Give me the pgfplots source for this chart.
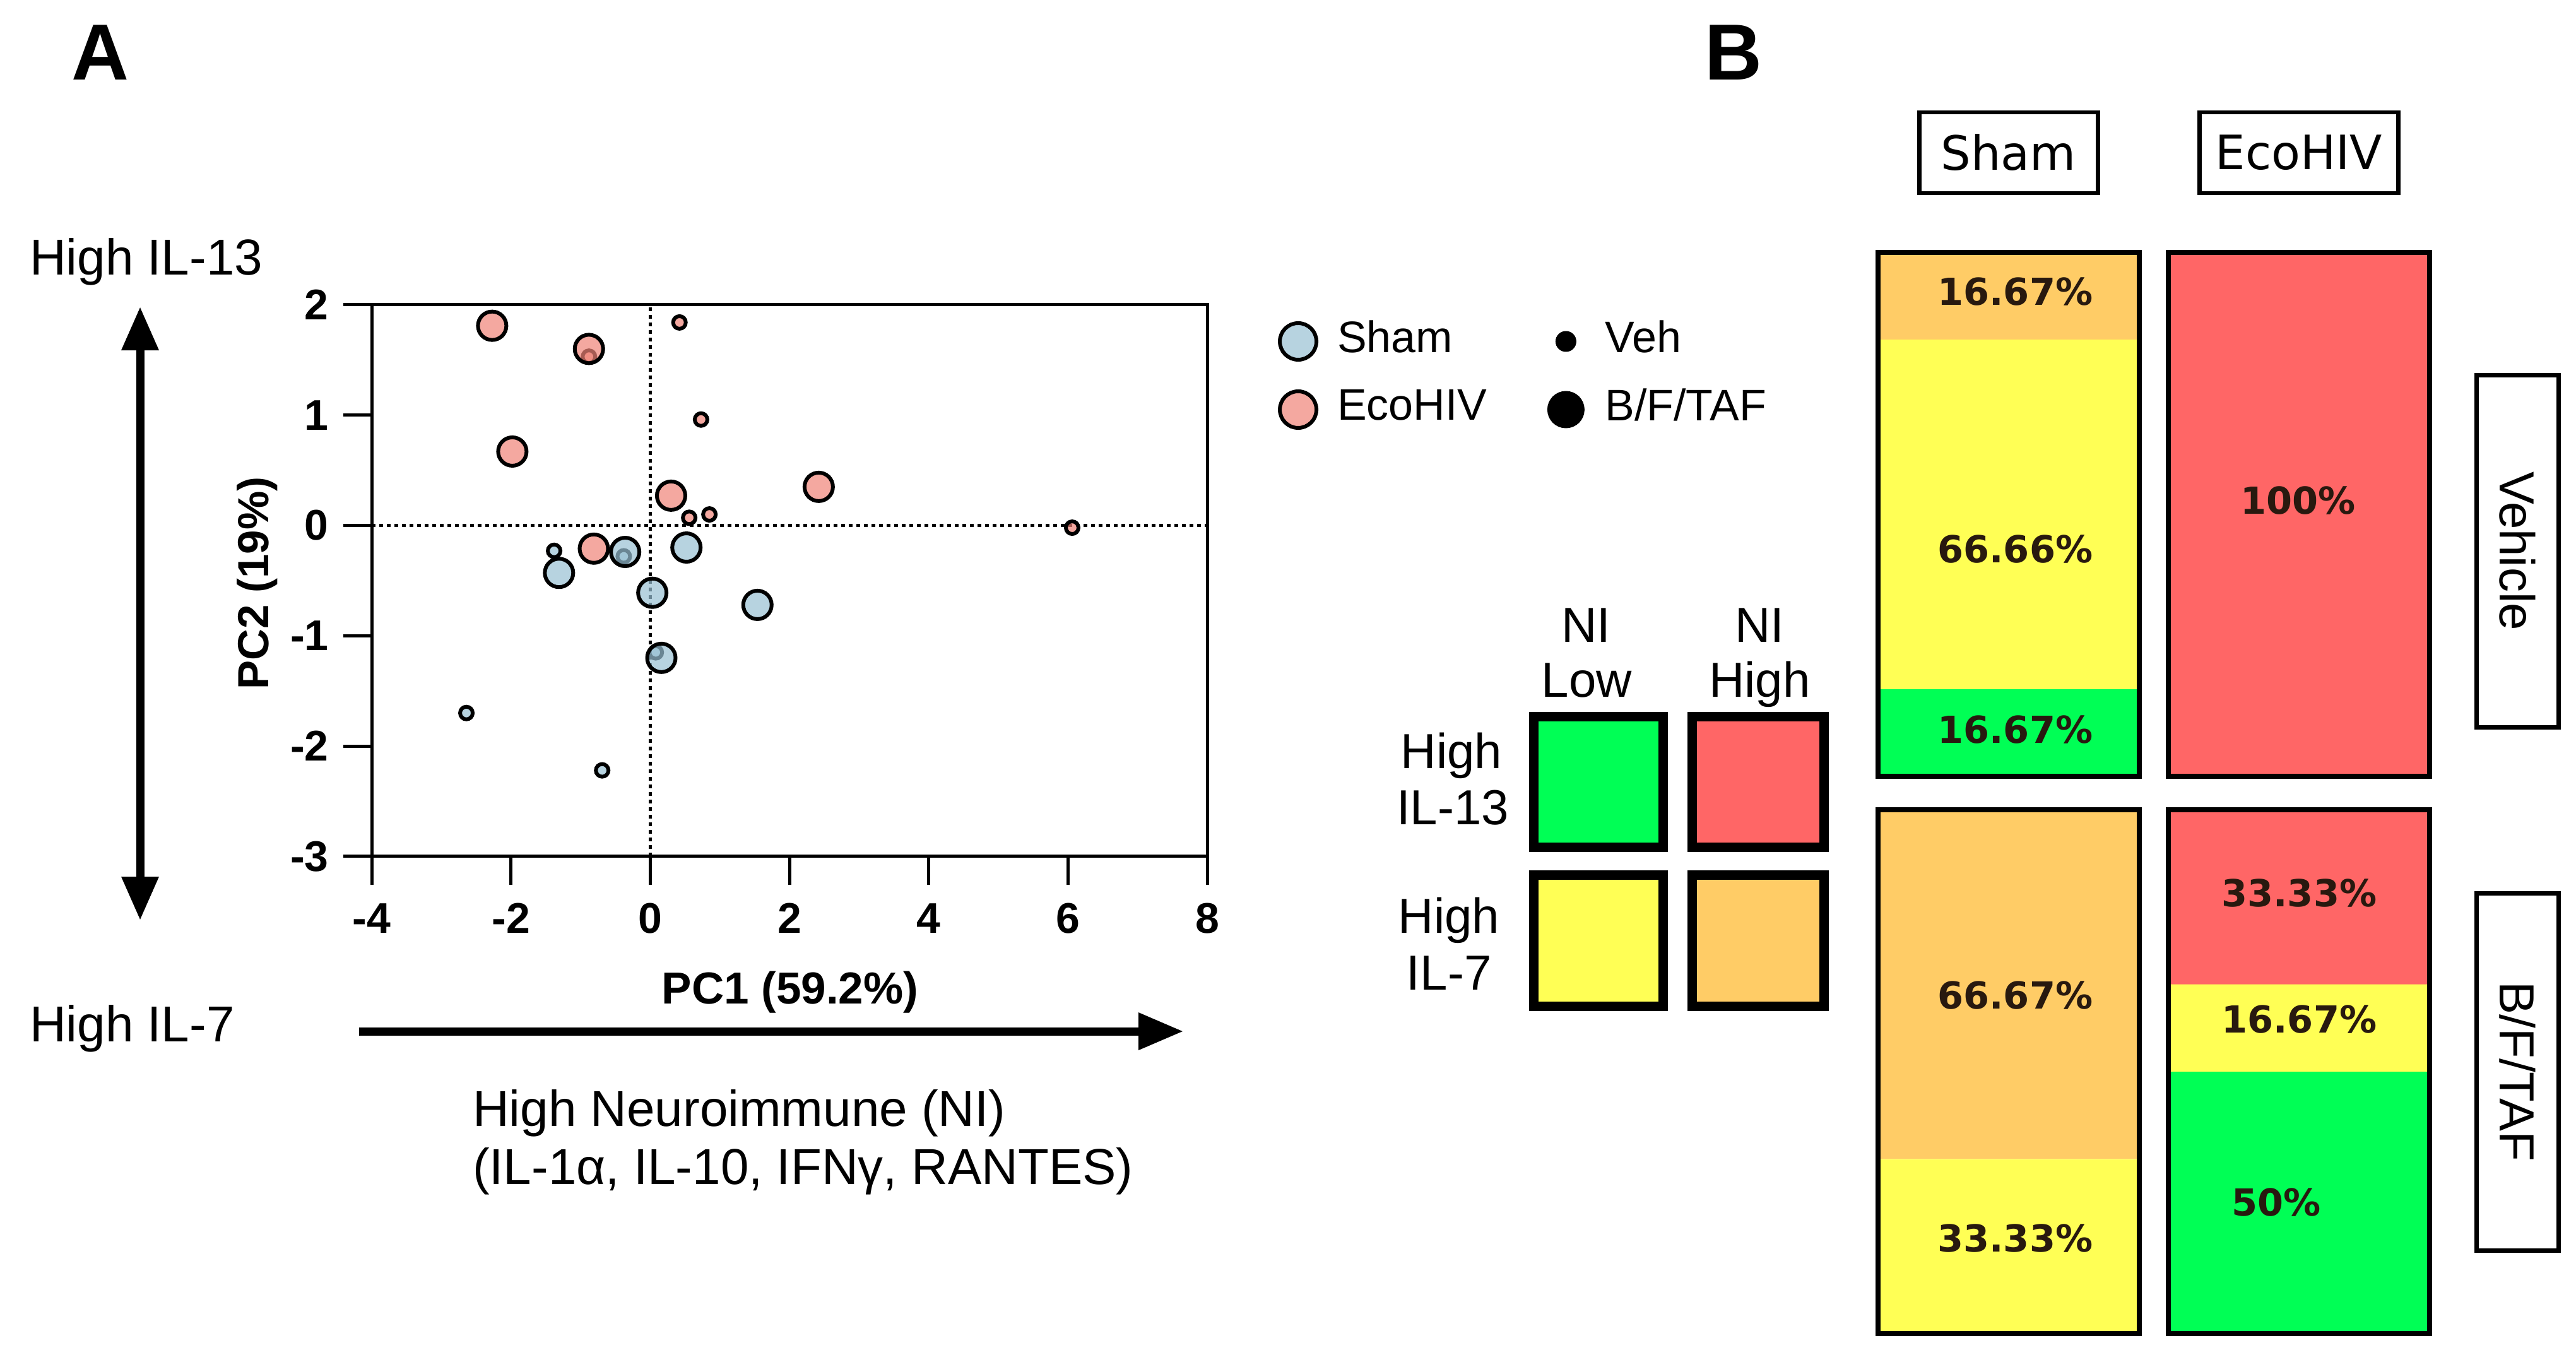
\documentclass[border=0pt]{standalone}
\usepackage{fontspec}
\setmainfont{Liberation Sans}
\newfontfamily\dejavu{DejaVu Sans}
\usepackage{pgfplots}
\pgfplotsset{compat=1.18}
\usetikzlibrary{arrows.meta}
\definecolor{shamblue}{RGB}{152,192,211}
\definecolor{ecopink}{RGB}{239,131,119}
\definecolor{cgreen}{RGB}{0,255,85}
\definecolor{cred}{RGB}{255,102,102}
\definecolor{cyellow}{RGB}{255,255,85}
\definecolor{corange}{RGB}{255,204,102}
\definecolor{lblc}{RGB}{40,25,15}
\pgfplotsset{
  barax/.style={scale only axis, width=92pt, height=83pt, xmin=-0.5, xmax=1.5,
    ymin=0, ymax=100, hide axis, clip=false, anchor=south west},
}
\tikzset{pct/.style={font=\dejavu\fontsize{5.9}{7}\selectfont\bfseries, text=lblc, inner sep=0pt}}
\begin{document}
\begin{tikzpicture}
\path[use as bounding box] (0,0) rectangle (408.2pt,213.8pt);

% ---------------- Panel A scatter ----------------
\begin{axis}[
  at={(58.9pt,78.1pt)}, anchor=south west, scale only axis,
  width=132.4pt, height=87.4pt,
  xmin=-4, xmax=8, ymin=-3, ymax=2,
  xtick={-4,-2,0,2,4,6,8}, ytick={-3,-2,-1,0,1,2},
  tick pos=left, tick align=outside, major tick length=4.5pt,
  axis line style={line width=0.5pt},
  every tick/.style={black, line width=0.5pt},
  ticklabel style={font=\fontsize{6.8}{8}\selectfont\bfseries},
  yticklabel style={xshift=1.2pt},
  xticklabel style={yshift=0.6pt},
  /pgf/number format/assume math mode=true,
  clip=false,
  legend columns=2, legend cell align=left,
  legend image code/.code={\path (-3pt,-3.2pt) (3pt,3.2pt); \draw[#1] plot coordinates {(0pt,0pt)};},
  legend style={draw=none, fill=none, at={(1.0846,0.9725)}, anchor=north west,
    inner sep=0pt, outer sep=0pt, row sep=4pt,
    font=\fontsize{7}{8.4}\selectfont, nodes={inner sep=0pt},
    /tikz/every odd column/.style={column sep=3pt},
    /tikz/every even column/.style={column sep=9.3pt}},
]
\addplot[forget plot, black, line width=0.55pt, dash pattern=on 0.6pt off 0.6pt] coordinates {(-4,0) (8,0)};
\addplot[forget plot, black, line width=0.55pt, dash pattern=on 0.6pt off 0.6pt] coordinates {(0,-3) (0,2)};
% Veh (small)
\addplot[forget plot, only marks, mark=*, mark size=1pt,
  mark options={draw=black, fill=shamblue, fill opacity=0.7, line width=0.6pt}]
  coordinates {(-0.38,-0.28) (-1.38,-0.23) (0.08,-1.15) (-2.64,-1.70) (-0.69,-2.22)};
\addplot[forget plot, only marks, mark=*, mark size=1pt,
  mark options={draw=black, fill=ecopink, fill opacity=0.7, line width=0.6pt}]
  coordinates {(-0.88,1.53) (0.42,1.84) (0.73,0.96) (0.56,0.07) (0.85,0.10) (6.06,-0.02)};
% B/F/TAF (big)
\addplot[forget plot, only marks, mark=*, mark size=2.25pt,
  mark options={draw=black, fill=ecopink, fill opacity=0.7, line width=0.6pt}]
  coordinates {(-2.27,1.81) (-0.88,1.60) (-1.98,0.67) (0.30,0.27) (2.42,0.35) (-0.81,-0.21)};
\addplot[forget plot, only marks, mark=*, mark size=2.25pt,
  mark options={draw=black, fill=shamblue, fill opacity=0.7, line width=0.6pt}]
  coordinates {(-0.36,-0.24) (-1.31,-0.43) (0.52,-0.20) (0.03,-0.61) (1.54,-0.72) (0.16,-1.20)};
% legend
\addlegendimage{only marks, mark=*, mark size=2.9pt, mark options={draw=black, fill=shamblue, fill opacity=0.7, line width=0.6pt}}
\addlegendentry{Sham}
\addlegendimage{only marks, mark=*, mark size=1.45pt, mark options={draw=black, fill=black}}
\addlegendentry{Veh}
\addlegendimage{only marks, mark=*, mark size=2.9pt, mark options={draw=black, fill=ecopink, fill opacity=0.7, line width=0.6pt}}
\addlegendentry{EcoHIV}
\addlegendimage{only marks, mark=*, mark size=2.75pt, mark options={draw=black, fill=black}}
\addlegendentry{B/F/TAF}
\end{axis}

% ---------------- Panel B key squares ----------------
\begin{axis}[at={(240pt,51.8pt)}, anchor=south west, scale only axis,
  width=52pt, height=52pt, xmin=2400, xmax=2920, ymin=1100, ymax=1620,
  y dir=reverse, hide axis, clip=false]
\addplot[fill=cgreen, draw=black, line width=1.5pt] coordinates {(2430,1136) (2635,1136) (2635,1343) (2430,1343)} -- cycle;
\addplot[fill=cred, draw=black, line width=1.5pt] coordinates {(2681,1136) (2890,1136) (2890,1343) (2681,1343)} -- cycle;
\addplot[fill=cyellow, draw=black, line width=1.5pt] coordinates {(2430,1387) (2635,1387) (2635,1594) (2430,1594)} -- cycle;
\addplot[fill=corange, draw=black, line width=1.5pt] coordinates {(2681,1387) (2890,1387) (2890,1594) (2681,1594)} -- cycle;
\end{axis}

% ---------------- Panel B stacked bars: Vehicle row ----------------
\begin{axis}[barax, at={(295.3pt,90.8pt)}, ybar stacked, bar width=0.9]
\addplot[fill=cgreen, draw=none] coordinates {(0,16.67) (1,0)};
\addplot[fill=cyellow, draw=none] coordinates {(0,66.66) (1,0)};
\addplot[fill=corange, draw=none] coordinates {(0,16.67) (1,0)};
\addplot[fill=cred, draw=none] coordinates {(0,0) (1,100)};
\end{axis}
\begin{axis}[barax, at={(295.3pt,90.8pt)}, ybar, bar width=0.9]
\addplot[fill=none, draw=black, line width=0.85pt] coordinates {(0,100) (1,100)};
\end{axis}

% ---------------- Panel B stacked bars: B/F/TAF row ----------------
\begin{axis}[barax, at={(295.3pt,2.5pt)}, ybar stacked, bar width=0.9]
\addplot[fill=cgreen, draw=none] coordinates {(0,0) (1,50)};
\addplot[fill=cyellow, draw=none] coordinates {(0,33.33) (1,16.67)};
\addplot[fill=corange, draw=none] coordinates {(0,66.67) (1,0)};
\addplot[fill=cred, draw=none] coordinates {(0,0) (1,33.33)};
\end{axis}
\begin{axis}[barax, at={(295.3pt,2.5pt)}, ybar, bar width=0.9]
\addplot[fill=none, draw=black, line width=0.85pt] coordinates {(0,100) (1,100)};
\end{axis}

% ---------------- Annotations ----------------
\begin{scope}[x=0.1pt,y=-0.1pt,shift={(0pt,213.8pt)}]
% percentage labels
\node[pct] at (3193,462) {16.67\%};
\node[pct] at (3193,870) {66.66\%};
\node[pct] at (3193,1156) {16.67\%};
\node[pct] at (3641,793) {100\%};
\node[pct] at (3193,1577) {66.67\%};
\node[pct] at (3193,1962) {33.33\%};
\node[pct] at (3643,1415) {33.33\%};
\node[pct] at (3643,1615) {16.67\%};
\node[pct] at (3607,1905) {50\%};
\node[font=\fontsize{12.6}{14}\selectfont\bfseries, inner sep=0pt] at (159,83) {A};
\node[font=\fontsize{12.6}{14}\selectfont\bfseries, inner sep=0pt] at (2747,83) {B};
\node[anchor=base west, inner sep=0pt, font=\fontsize{8}{9.6}\selectfont] at (45,435) {High IL-13};
\node[anchor=base west, inner sep=0pt, font=\fontsize{8}{9.6}\selectfont] at (45,1650) {High IL-7};
\draw[line width=1.3pt, {Triangle[length=6.9pt,width=5.6pt]}-{Triangle[length=6.9pt,width=5.6pt]}] (222,486) -- (222,1458);
\draw[line width=1.3pt, -{Triangle[length=7.1pt,width=5.6pt]}] (569,1634) -- (1875,1634);
\node[anchor=base, inner sep=0pt, font=\fontsize{7.1}{8}\selectfont\bfseries] at (1252,1590) {PC1 (59.2\%)};
\node[rotate=90, inner sep=0pt, font=\fontsize{6.9}{8}\selectfont\bfseries] at (408,924) {PC2 (19\%)};
\node[anchor=base west, inner sep=0pt, font=\fontsize{8}{9.6}\selectfont] at (747,1784) {High Neuroimmune (NI)};
\node[anchor=base west, inner sep=0pt, font=\fontsize{8}{9.6}\selectfont] at (747,1876) {(IL-1α, IL-10, IFNγ, RANTES)};
% key labels
\begin{scope}[every node/.style={anchor=base, inner sep=0pt, font=\fontsize{7.8}{9}\selectfont}]
\node at (2513,1017) {NI};
\node at (2514,1104) {Low};
\node at (2788,1017) {NI};
\node at (2788,1104) {High};
\node at (2300,1217) {High};
\node at (2302,1306) {IL-13};
\node at (2296,1478) {High};
\node at (2296,1568) {IL-7};
\end{scope}
% header boxes
\node[draw, line width=0.65pt, minimum width=28.3pt, minimum height=12.8pt, inner sep=0pt,
  font=\dejavu\fontsize{7.5}{9}\selectfont] at (3182.5,242) {Sham};
\node[draw, line width=0.65pt, minimum width=31.5pt, minimum height=12.8pt, inner sep=0pt,
  font=\dejavu\fontsize{7.5}{9}\selectfont] at (3642.5,242) {EcoHIV};
\node[draw, line width=0.7pt, rotate=-90, minimum width=55.8pt, minimum height=13pt, inner sep=0pt,
  font=\fontsize{7.8}{9}\selectfont] at (3989,873) {Vehicle};
\node[draw, line width=0.7pt, rotate=-90, minimum width=56.6pt, minimum height=13pt, inner sep=0pt,
  font=\fontsize{7.8}{9}\selectfont] at (3989,1698) {B/F/TAF};
\end{scope}
\end{tikzpicture}
\end{document}
